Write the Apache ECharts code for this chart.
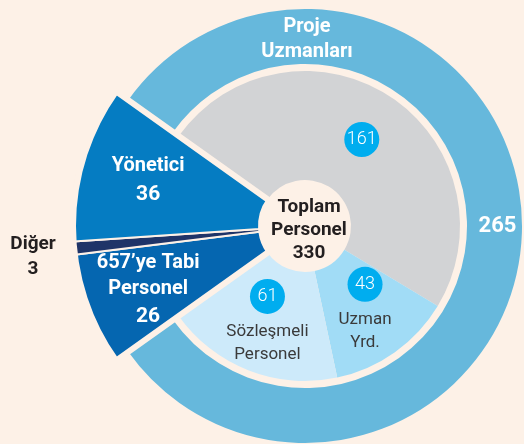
<!DOCTYPE html>
<html>
<head>
<meta charset="utf-8">
<script src="https://cdn.jsdelivr.net/npm/echarts@6/dist/echarts.min.js"></script>
<style>
  html, body { margin: 0; padding: 0; background: #fdf1e7; }
  #chart { width: 524px; height: 444px; }
</style>
</head>
<body>
<div id="chart"></div>
<script>
// Sol dilimler (alttan yukarı, saat yönünde)
const leftNames = ['657’ye Tabi\nPersonel', 'Diğer', 'Yönetici'];
const leftValues = [26, 3, 36];
const leftColors = ['#0566b0', '#1f3468', '#057cc2'];

// Proje uzmanları halkası
const ringName = 'Proje\nUzmanları';
const ringValue = 265;

// İç pasta (saat yönünde, üstten başlayarak)
const innerNames = ['', 'Uzman\nYrd.', 'Sözleşmeli\nPersonel'];
const innerValues = [161, 43, 61];
const innerColors = ['#d2d3d5', '#a1dcf6', '#cdeafa'];

// Toplam
const totalName = 'Toplam\nPersonel';
const totalValue = 330;

const BG = '#fdf1e7';
const FONT = 'Roboto, "Liberation Sans", sans-serif';
const cx = 305, cy = 226;
const center = [cx, cy];

// sol grup 180° etrafında ortalanır
const leftTotal = leftValues.reduce((a, b) => a + b, 0);
const startAngle = 180 + (leftTotal / totalValue) * 360 / 2;

// boş (görünmez) dilim
const blank = v => ({
  value: v, name: '',
  itemStyle: { color: 'transparent', borderWidth: 0 },
  label: { show: false }, labelLine: { show: false }
});

const chart = echarts.init(document.getElementById('chart'));

const option = {
  backgroundColor: BG,
  animation: false,
  series: [
    {
      // iç pasta
      type: 'pie', center, radius: [46, 155], startAngle, silent: true,
      avoidLabelOverlap: false,
      label: {
        show: true, position: 'inside',
        formatter: p => {
          let s = `{b|${p.value}}`;
          if (p.name) {
            s += '\n{s| }\n' + p.name.split('\n').map(t => `{t|${t}}`).join('\n');
          }
          return s;
        },
        rich: {
          b: {
            backgroundColor: '#00adef', color: '#fff', width: 35, height: 35,
            borderRadius: 18, align: 'center', fontSize: 18, lineHeight: 35,
            fontWeight: 300, fontFamily: FONT
          },
          s: { fontSize: 2, lineHeight: 6 },
          t: { color: '#3a3a3a', fontSize: 17, lineHeight: 23, fontFamily: FONT, align: 'center' }
        }
      },
      labelLine: { show: false },
      data: [blank(leftTotal)].concat(innerValues.map((v, i) => ({
        value: v, name: innerNames[i], itemStyle: { color: innerColors[i] }
      })))
    },
    {
      // proje uzmanları halkası
      type: 'pie', center, radius: [162, 217], startAngle, silent: true,
      avoidLabelOverlap: false,
      label: {
        show: true, position: 'inside', formatter: '{c}',
        color: '#fff', fontSize: 22, fontWeight: 'bold', fontFamily: FONT
      },
      labelLine: { show: false },
      data: [blank(leftTotal), { value: ringValue, name: ringName, itemStyle: { color: '#66b8dc' } }]
    },
    {
      // sol dilimler
      type: 'pie', center, radius: [46, 232], startAngle, silent: true,
      itemStyle: { borderColor: BG, borderWidth: 2 },
      label: { show: false }, labelLine: { show: false },
      data: leftValues.map((v, i) => ({
        value: v, name: leftNames[i], itemStyle: { color: leftColors[i] }
      })).concat([blank(ringValue)])
    },
    {
      // sol grup etrafındaki boşluk
      type: 'pie', center, radius: [40, 232], startAngle, silent: true, z: 5,
      label: { show: false }, labelLine: { show: false },
      data: [
        { value: leftTotal, name: '', itemStyle: { color: 'transparent', borderColor: BG, borderWidth: 6 } },
        blank(ringValue)
      ]
    },
    {
      // sol etiketler
      type: 'pie', center, radius: [88, 232], startAngle, silent: true, z: 6,
      avoidLabelOverlap: false,
      itemStyle: { color: 'transparent' },
      label: {
        show: true, position: 'inside',
        formatter: p => p.name.split('\n').map(t => `{n|${t}}`).join('\n') + `\n{v|${p.value}}`,
        rich: {
          n: { color: '#fff', fontSize: 20, fontWeight: 'bold', lineHeight: 26, fontFamily: FONT },
          v: { color: '#fff', fontSize: 21, fontWeight: 'bold', lineHeight: 31, fontFamily: FONT }
        }
      },
      labelLine: { show: false },
      data: leftValues.map((v, i) => {
        const d = { value: v, name: leftNames[i] };
        if (leftNames[i] === 'Diğer') {
          d.label = {
            position: 'outside', distanceToLabelLine: 5, padding: [16, 0, 0, 0],
            formatter: p => `{d|${p.name}}\n{d|${p.value}}`,
            rich: {
              d: { color: '#231f20', fontSize: 19, fontWeight: 'bold', lineHeight: 25,
                   width: 50, align: 'center', fontFamily: FONT }
            }
          };
          d.labelLine = { show: false, length: 5, length2: 6 };
        } else if (leftNames[i].indexOf('657') === 0) {
          d.label = { padding: [12, 10, 0, 0] };
        }
        return d;
      }).concat([blank(ringValue)])
    }
  ],
  graphic: [
    {
      type: 'text', x: cx + 4, y: cy + 4, z: 10,
      style: {
        text: totalName + '\n' + totalValue, align: 'center', verticalAlign: 'middle',
        fill: '#231f20', fontSize: 19, fontWeight: 'bold', fontFamily: FONT, lineHeight: 23
      }
    },
    {
      type: 'text', x: cx + 2, y: cy - 187, z: 10,
      style: {
        text: ringName, align: 'center', verticalAlign: 'middle',
        fill: '#fff', fontSize: 20, fontWeight: 'bold', fontFamily: FONT, lineHeight: 25
      }
    }
  ]
};

chart.setOption(option);
</script>
</body>
</html>
